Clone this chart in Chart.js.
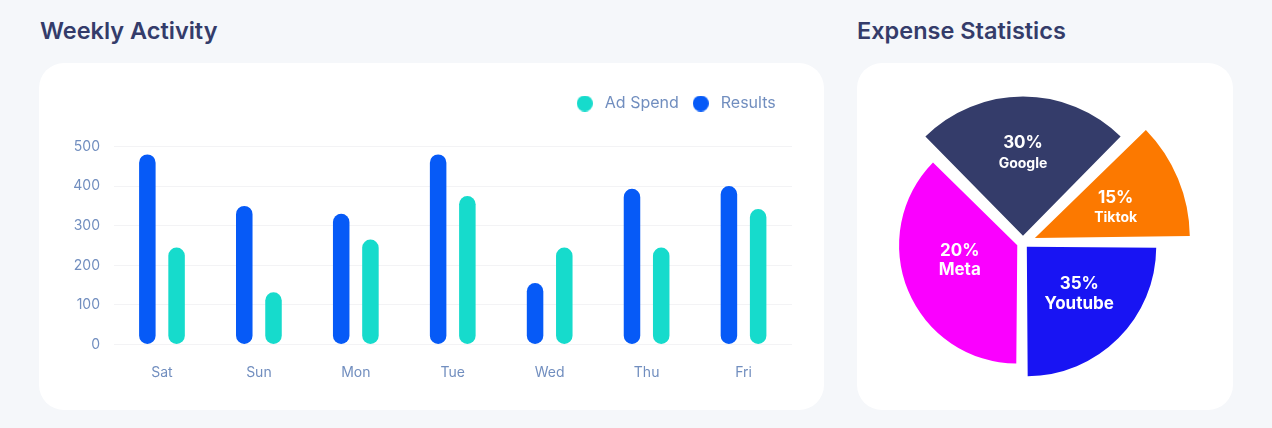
<!DOCTYPE html>
<html><head><meta charset="utf-8">
<script src="https://cdn.jsdelivr.net/npm/chart.js@4.4.1/dist/chart.umd.min.js"></script>
<style>
html,body{margin:0;padding:0;}
body{width:1272px;height:428px;background:#F5F7FA;position:relative;overflow:hidden;font-family:Inter,sans-serif;}
.title{position:absolute;top:19px;margin:0;font-size:23.5px;line-height:23.5px;font-weight:600;color:#343C6A;white-space:nowrap;}
.card{position:absolute;background:#fff;border-radius:25px;}
#barWrap{position:absolute;left:39px;top:63px;width:785px;height:347px;}
#pieWrap{position:absolute;left:823px;top:43px;width:400px;height:400px;}
canvas{display:block;}
</style></head>
<body>
<h2 class="title" style="left:40px">Weekly Activity</h2>
<h2 class="title" style="left:857px">Expense Statistics</h2>
<div class="card" style="left:39px;top:63px;width:785px;height:347px"></div>
<div class="card" style="left:857px;top:63px;width:376px;height:347px"></div>
<div id="barWrap"><canvas id="bar" width="785" height="347"></canvas></div>
<div id="pieWrap"><canvas id="pie" width="400" height="400"></canvas></div>
<script>
// ---- Weekly Activity data ----
const days = ['Sat', 'Sun', 'Mon', 'Tue', 'Wed', 'Thu', 'Fri'];
const resultsValues = [480, 350, 330, 480, 155, 393, 400];
const adSpendValues = [245, 132, 265, 375, 245, 245, 342];
const yTickValues = [0, 100, 200, 300, 400, 500];

// ---- Expense Statistics data ----
const expenseLabels = ['Google', 'Tiktok', 'Youtube', 'Meta'];
const expenseShares = [30, 15, 35, 20];       // printed percentages
const expenseSpan = [90, 45, 90, 135];        // angular span of each slice (deg)
const expenseReach = [132, 142, 124, 112];    // radial value of each slice (scale 0-200)

const tickColor = '#718EBF';

function dot(color) {
  const c = document.createElement('canvas');
  c.width = 16; c.height = 16;
  const g = c.getContext('2d');
  g.fillStyle = color;
  g.beginPath(); g.arc(8, 8, 8, 0, Math.PI * 2); g.fill();
  return c;
}

const legendTweak = {
  id: 'legendTweak',
  beforeLayout(chart) {
    const lg = chart.legend;
    if (lg && !lg._patched) {
      const f = lg.fit;
      lg.fit = function () { f.call(this); this.height += 25; };
      lg._patched = true;
    }
  },
  afterLayout(chart) {
    chart.legend.left -= 6.3;
    chart.legend.right -= 6.3;
  }
};

new Chart(document.getElementById('bar'), {
  type: 'bar',
  data: {
    labels: days,
    datasets: [
      { label: 'Results', data: resultsValues, backgroundColor: '#065AF7',
        borderRadius: 20, borderSkipped: false, categoryPercentage: 0.603, barPercentage: 0.565 },
      { label: 'Ad Spend', data: adSpendValues, backgroundColor: '#16DBCC',
        borderRadius: 20, borderSkipped: false, categoryPercentage: 0.603, barPercentage: 0.565 }
    ]
  },
  options: {
    responsive: false,
    animation: false,
    layout: { padding: { left: 34.5, right: 32, top: 22.5, bottom: 25.5 } },
    plugins: {
      legend: {
        position: 'top', align: 'end', reverse: true,
        labels: {
          usePointStyle: true, pointStyleWidth: 24, padding: 10,
          color: tickColor, font: { family: 'Inter', size: 16 },
          generateLabels(chart) {
            const items = Chart.defaults.plugins.legend.labels.generateLabels(chart);
            items.forEach(it => { it.pointStyle = dot(it.fillStyle); });
            return items;
          }
        }
      },
      tooltip: { enabled: false }
    },
    scales: {
      x: {
        grid: { display: false, drawTicks: false }, border: { display: false },
        ticks: { color: tickColor, font: { family: 'Inter', size: 14 }, padding: 19.4 },
        afterFit(s) { s.height = 40; }
      },
      y: {
        min: 0, max: 500,
        grid: { color: '#F3F3F5', drawTicks: false, lineWidth: 1 },
        border: { display: false },
        ticks: { color: tickColor, font: { family: 'Inter', size: 14 }, padding: 13.5, stepSize: 100 },
        afterBuildTicks(s) { s.ticks = yTickValues.map(v => ({ value: v })); },
        afterFit(s) { s.width = 40; }
      }
    }
  },
  plugins: [legendTweak]
});

// label style/placement inside each slice: [angle fraction, radius fraction], name font size
const pieLabels = {
  id: 'pieLabels',
  afterDatasetsDraw(chart, args, opts) {
    const ctx = chart.ctx;
    const meta = chart.getDatasetMeta(0);
    meta.data.forEach((arc, i) => {
      const mid = (arc.startAngle + arc.endAngle) / 2;
      const shift = (arc.options.offset || 0) / 4;
      const [af, rf] = opts.anchors[i];
      const ang = arc.startAngle + af * (arc.endAngle - arc.startAngle);
      const rad = rf * (arc.outerRadius + shift);
      const x = arc.x + Math.cos(mid) * shift + Math.cos(ang) * rad;
      const y = arc.y + Math.sin(mid) * shift + Math.sin(ang) * rad;
      const gap = opts.gaps[i] / 2;
      ctx.save();
      ctx.fillStyle = '#FFFFFF';
      ctx.textAlign = 'center';
      ctx.textBaseline = 'middle';
      ctx.font = '700 17px Inter';
      ctx.fillText(expenseShares[i] + '%', x, y - gap);
      ctx.font = '700 ' + opts.nameSizes[i] + 'px Inter';
      ctx.fillText(expenseLabels[i], x, y + gap);
      ctx.restore();
    });
  }
};

new Chart(document.getElementById('pie'), {
  type: 'polarArea',
  data: {
    labels: expenseLabels,
    datasets: [{
      data: expenseReach,
      angle: expenseSpan,
      backgroundColor: ['#343C6A', '#FC7900', '#1814F3', '#FA00FF'],
      borderWidth: 0,
      offset: [28.8, 51.6, 21.6, 24.8]
    }]
  },
  options: {
    responsive: false,
    animation: false,
    layout: { padding: 0 },
    scales: { r: { display: false, min: 0, max: 200, startAngle: -45 } },
    plugins: {
      legend: { display: false }, tooltip: { enabled: false },
      pieLabels: {
        anchors: [[0.5, 0.594], [0.54, 0.557], [0.463, 0.542], [0.559, 0.503]],
        gaps: [21, 19.5, 20, 19],
        nameSizes: [14, 14, 17, 17]
      }
    }
  },
  plugins: [pieLabels]
});
</script>
</body></html>
